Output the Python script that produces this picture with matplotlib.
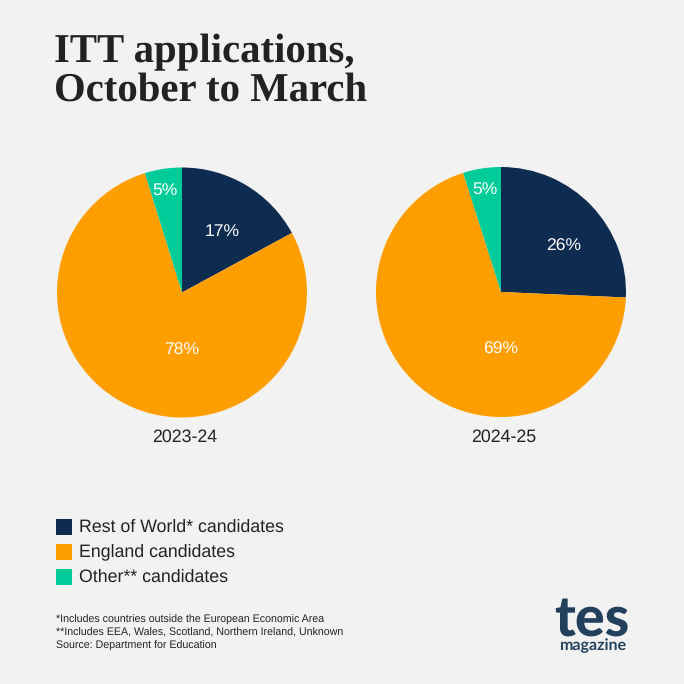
import matplotlib
matplotlib.use("Agg")
import matplotlib.pyplot as plt
from matplotlib.patches import Rectangle

plt.rcParams["text.hinting"] = "none"
plt.rcParams["text.kerning_factor"] = 0

title_lines = ["ITT applications,", "October to March"]
series_names = ["Rest of World* candidates", "England candidates", "Other** candidates"]
years = ["2023-24", "2024-25"]
values_2023 = [17.1, 78.1, 4.8]
values_2024 = [25.7, 69.4, 4.9]
labels_2023 = ["17%", "78%", "5%"]
labels_2024 = ["26%", "69%", "5%"]
notes = ["*Includes countries outside the European Economic Area",
         "**Includes EEA, Wales, Scotland, Northern Ireland, Unknown",
         "Source: Department for Education"]
colors = ["#0e2b50", "#ff9e00", "#00cc99"]
BG = "#f2f2f2"
W = H = 684

fig = plt.figure(figsize=(6.84, 6.84), dpi=100, facecolor=BG)
sans = "Liberation Sans"

def X(p): return p / W
def Y(p): return 1 - p / H

def draw_pie(cx, cy, r, vals, labs, lab_pos, year):
    ax = fig.add_axes([X(cx - r), Y(cy + r), 2 * r / W, 2 * r / H])
    ax.pie(vals, colors=colors, startangle=90, counterclock=False, radius=1,
           wedgeprops=dict(linewidth=0))
    ax.set_xlim(-1, 1); ax.set_ylim(-1, 1)
    ax.set_aspect("equal"); ax.axis("off")
    for lab, (lx, ly) in zip(labs, lab_pos):
        ax.text(lx, ly, lab, color="white", fontsize=12.6, family=sans,
                ha="center", va="center")
    fig.text(X(cx + 2.5), Y(437), year, fontsize=12.8, family=sans, color="#222222",
             ha="center", va="center")

draw_pie(182, 292.5, 125, values_2023, labels_2023,
         [(0.32, 0.49), (0.0, -0.46), (-0.14, 0.82)], years[0])
draw_pie(501, 292, 125, values_2024, labels_2024,
         [(0.50, 0.365), (0.0, -0.46), (-0.125, 0.82)], years[1])

for i, line in enumerate(title_lines):
    fig.text(X(54.5), Y(52.5 + 38.5 * i), line, fontsize=29.3, fontweight="bold",
             family="Liberation Serif", color="#222222", ha="left", va="center")

for i, name in enumerate(series_names):
    yc = 526.5 + 25 * i
    fig.add_artist(Rectangle((X(56), Y(yc + 8)), 16 / W, 16 / H, transform=fig.transFigure,
                             facecolor=colors[i], edgecolor="none"))
    fig.text(X(79), Y(yc + 0.5), name, fontsize=12.8, family=sans, color="#222222",
             ha="left", va="center")

for i, note in enumerate(notes):
    fig.text(X(55.5), Y(619.5 + 13 * i), note, fontsize=7.7, family=sans, color="#222222",
             ha="left", va="center")

fig.text(X(591.5), Y(635.5), "tes", fontsize=40, fontweight="black", family="Lato",
         color="#22405c", ha="center", va="baseline")
fig.text(X(593), Y(646), "magazine", fontsize=11.5, fontweight="bold", family="Lato",
         color="#22405c", ha="center", va="center")

fig.savefig("out.png", dpi=100, facecolor=BG)
